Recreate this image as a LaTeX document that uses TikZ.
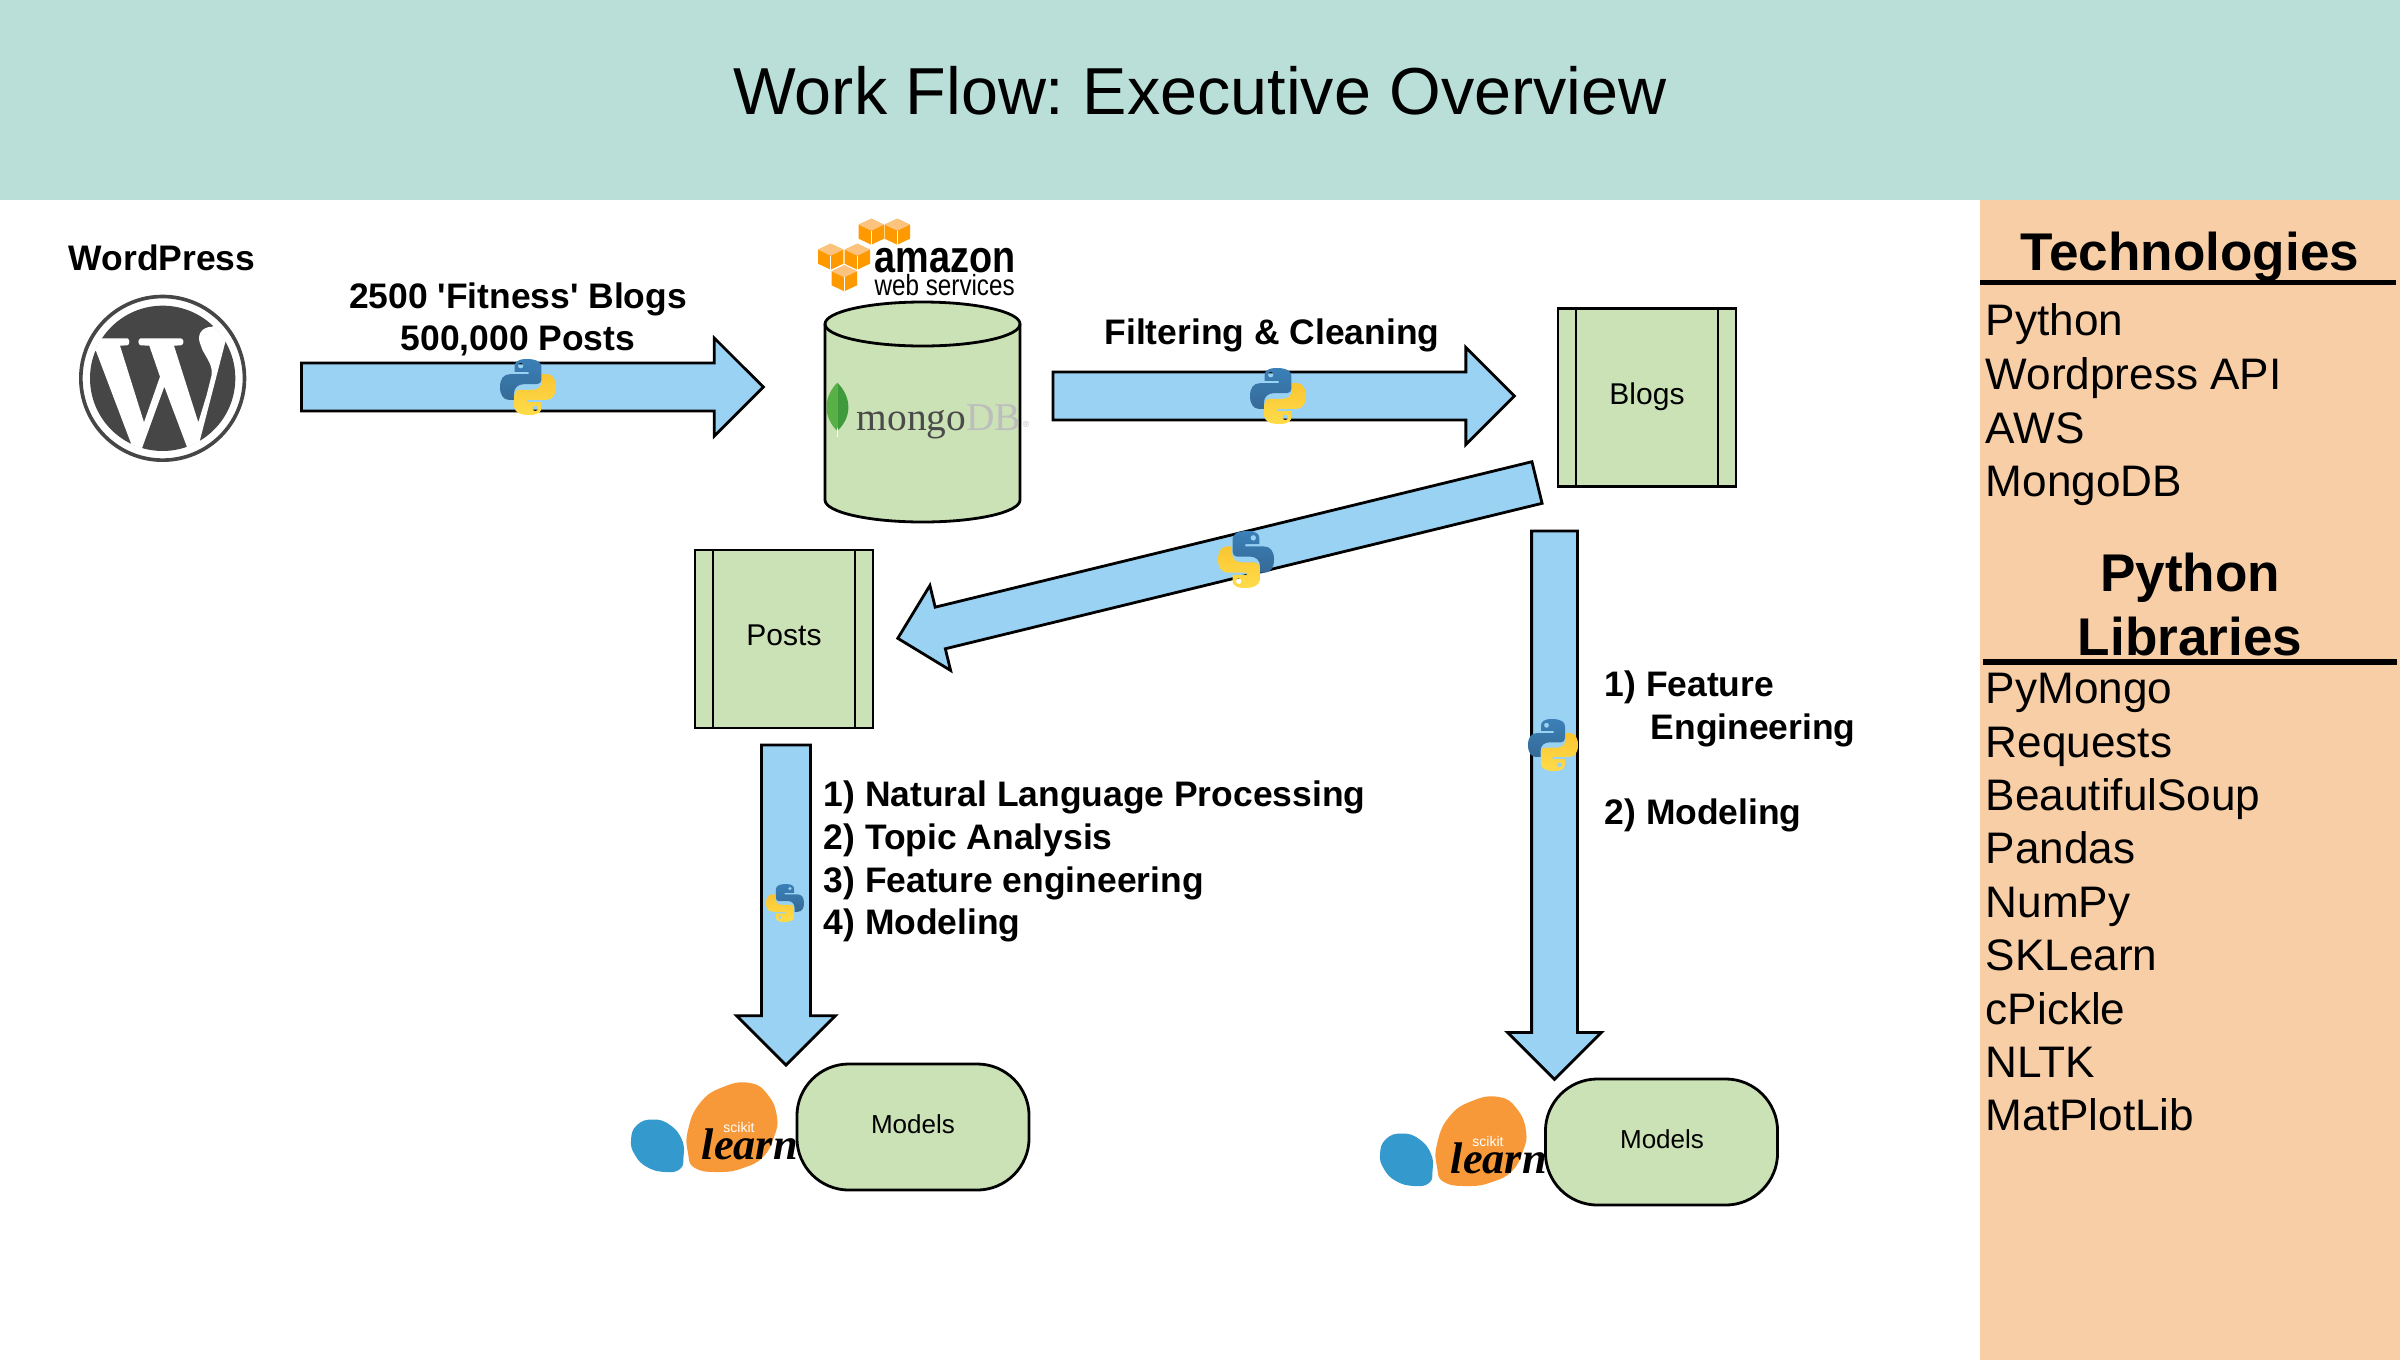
\documentclass[tikz,border=0pt]{standalone}
\usepackage{fontspec}
\usepackage{graphicx}
\setmainfont{Liberation Sans}[Ligatures=TeXOff]
\newfontfamily\serifface{Liberation Serif}
\usetikzlibrary{shapes.geometric,shapes.arrows}
\definecolor{headerteal}{HTML}{B9DFD8}
\definecolor{panelpeach}{HTML}{F8CEA6}
\definecolor{boxgreen}{HTML}{CBE2B6}
\definecolor{arrowblue}{HTML}{9AD2F3}
\definecolor{wpgrey}{HTML}{464646}
\definecolor{pyblueA}{HTML}{3B80B8}
\definecolor{pyblueB}{HTML}{356A96}
\definecolor{pyyellowA}{HTML}{FFDC4A}
\definecolor{pyyellowB}{HTML}{FAC532}
\definecolor{skblue}{HTML}{3499CD}
\definecolor{skorange}{HTML}{F89939}
\definecolor{awsorange}{HTML}{FF9900}
\definecolor{awstop}{HTML}{FBC37E}
\definecolor{mongodark}{HTML}{4A4A4A}
\definecolor{mongolight}{HTML}{BDBDBD}
\definecolor{leafA}{HTML}{58B047}
\definecolor{leafB}{HTML}{3F9A3C}
\newcommand{\fspt}[1]{\fontsize{#1}{#1}\selectfont}
\frenchspacing
\tikzset{
  x=0.01cm,y=-0.01cm,
  boxline/.style={line width=0.028cm,draw=black},
  bigarrow/.style={single arrow,boxline,fill=arrowblue,inner xsep=0pt,outer sep=0pt,anchor=tail},
  procbox/.style={rectangle,boxline,fill=boxgreen,minimum width=1.78cm,minimum height=1.78cm,inner sep=0pt,outer sep=0pt},
  modelbox/.style={rectangle,rounded corners=0.52cm,boxline,fill=boxgreen,minimum width=2.32cm,minimum height=1.26cm,inner sep=0pt,outer sep=0pt},
  boxtext/.style={anchor=base,inner sep=0pt,font=\fspt{8.54}},
  modeltext/.style={anchor=base,inner sep=0pt,font=\fspt{7.4}},
  boldlabel/.style={inner sep=0pt,font=\fspt{10.08}\bfseries},
  itemtext/.style={anchor=base west,inner sep=0pt,font=\fspt{12.55}},
  panelhead/.style={anchor=base,inner sep=0pt,font=\fspt{15.1}\bfseries},
  pylogo/.pic={
    \path[top color=pyblueA,bottom color=pyblueB,even odd rule]
      (-2,-50) .. controls (-20,-50) and (-24,-44) .. (-24,-36) -- (-24,-27) -- (1,-27) -- (1,-23) -- (-32,-23)
      .. controls (-44,-23) and (-50,-14) .. (-50,0) .. controls (-50,14) and (-44,23) .. (-34,23) -- (-25,23) -- (-25,11)
      .. controls (-25,1) and (-17,-5) .. (-8,-5) -- (16,-5) .. controls (21,-5) and (24,-9) .. (24,-14) -- (24,-36)
      .. controls (24,-44) and (16,-50) .. (-2,-50) -- cycle
      (-13,-38) circle[radius=5];
    \path[rotate=180,top color=pyyellowB,bottom color=pyyellowA,even odd rule]
      (-2,-50) .. controls (-20,-50) and (-24,-44) .. (-24,-36) -- (-24,-27) -- (1,-27) -- (1,-23) -- (-32,-23)
      .. controls (-44,-23) and (-50,-14) .. (-50,0) .. controls (-50,14) and (-44,23) .. (-34,23) -- (-25,23) -- (-25,11)
      .. controls (-25,1) and (-17,-5) .. (-8,-5) -- (16,-5) .. controls (21,-5) and (24,-9) .. (24,-14) -- (24,-36)
      .. controls (24,-44) and (16,-50) .. (-2,-50) -- cycle
      (-13,-38) circle[radius=5];
  },
  awscube/.pic={
    \fill[awsorange] (0,-13) -- (12.7,-7) -- (12.7,7) -- (0,13) -- (-12.7,7) -- (-12.7,-7) -- cycle;
    \fill[awstop] (0,-13) -- (12.7,-7) -- (0,-1) -- (-12.7,-7) -- cycle;
    \draw[white,line width=0.005cm] (0,-1) -- (0,13);
  },
  sklogo/.pic={
    \fill[skblue] plot[smooth cycle,tension=0.8] coordinates {(11,70) (17,55) (33,49.5) (50,55) (62,70) (63.5,87) (60,99) (45,102) (27,97) (15,85)};
    \fill[skorange] plot[smooth cycle,tension=0.8] coordinates {(68,60) (80,33) (103,17) (130,13) (148,25) (157,47) (154,67) (143,87) (123,98) (100,102) (75,98) (68,83)};
    \node[anchor=base,inner sep=0pt,text=white,font=\fspt{3.98}] (-scikit) at (119,62) {scikit};
    \node[anchor=base west,inner sep=0pt,font=\fspt{12.6}\serifface\bfseries\itshape] (-learn) at (81,89) {learn};
  }
}
\begin{document}
\begin{tikzpicture}
\path[use as bounding box] (0,0) rectangle (2400,1360);
% backgrounds
\fill[headerteal] (0,0) rectangle (2400,200);
\fill[panelpeach] (1980,200) rectangle (2400,1360);
\node[anchor=base,inner sep=0pt,font=\fspt{18.9}] (title) at (1200,114) {Work Flow: Executive Overview};

% WordPress logo
\begin{scope}[shift={(70,285)},scale=0.3333]
  \coordinate (wpc) at (278,280);
  \fill[wpgrey,even odd rule] (wpc) circle[radius=251] (wpc) circle[radius=240];
  \fill[wpgrey] (wpc) circle[radius=218];
  \begin{scope}
    \clip (wpc) circle[radius=219];
    \fill[white] (40,160) -- (172,160) .. controls (180,162) and (180,179) .. (172,181) -- (150,182) -- (222,412) -- (270,275) -- (238,182) -- (212,181)
      .. controls (203,179) and (203,162) .. (212,160) -- (333,160) .. controls (343,162) and (343,179) .. (333,181) -- (312,182) -- (385,412) -- (410,330) -- (425,270)
      .. controls (430,235) and (400,210) .. (392,180) .. controls (378,150) and (395,125) .. (428,125) -- (440,80) -- (500,100) -- (472,150) -- (465,175) -- (390,465) -- (380,520) -- (360,510)
      -- (283,305) -- (205,520) -- (190,495) -- (183,475) -- (78,198) -- (40,198) -- cycle;
  \end{scope}
\end{scope}
\node[boldlabel,anchor=base] (wplabel) at (162,270) {WordPress};

% arrows
\node[bigarrow,minimum height=4.615cm,inner ysep=0.225cm,single arrow head extend=0.25cm] (a1) at (301.5,387) {};
\node[bigarrow,minimum height=4.61cm,inner ysep=0.225cm,single arrow head extend=0.245cm] (a2) at (1053,396) {};
\node[bigarrow,minimum height=6.576cm,inner ysep=0.2cm,single arrow head extend=0.223cm,rotate=193.7] (a3) at (1537,482.5) {};
\node[bigarrow,minimum height=5.48cm,inner ysep=0.215cm,single arrow head extend=0.24cm,rotate=-90] (a4) at (1554.5,531) {};
\node[bigarrow,minimum height=3.2cm,inner ysep=0.23cm,single arrow head extend=0.25cm,rotate=-90] (a5) at (786,745) {};

% arrow labels
\node[boldlabel,anchor=base] (lab1a) at (518,308.5) {2500 'Fitness' Blogs};
\node[boldlabel,anchor=base] (lab1b) at (518,350.5) {500,000 Posts};
\node[boldlabel,anchor=base] (lab2) at (1272,344) {Filtering \& Cleaning};
\node[boldlabel,anchor=base west] (lab5a) at (823,806) {1) Natural Language Processing};
\node[boldlabel,anchor=base west] (lab5b) at (823,849) {2) Topic Analysis};
\node[boldlabel,anchor=base west] (lab5c) at (823,892) {3) Feature engineering};
\node[boldlabel,anchor=base west] (lab5d) at (823,934) {4) Modeling};
\node[boldlabel,anchor=base west] (lab4a) at (1604,696) {1) Feature};
\node[boldlabel,anchor=base west] (lab4b) at (1650,739) {Engineering};
\node[boldlabel,anchor=base west] (lab4c) at (1604,824) {2) Modeling};

% AWS logo
\foreach \cx/\cy in {871.3/231.7, 897.3/231.7, 830.7/256.7, 857.3/256.7, 844.3/278.3}
  \pic at (\cx,\cy) {awscube};
\node[anchor=base west,inner sep=0pt,font=\fspt{12.8}\bfseries] (awsa) at (874,272) {\scalebox{0.84}[1]{amazon}};
\node[anchor=base west,inner sep=0pt,font=\fspt{8.3}] (awsb) at (874,295) {\scalebox{0.83}[1]{web services}};

% MongoDB cylinder
\coordinate (dbtop) at (922.5,324);
\coordinate (dbbot) at (922.5,500);
\path[boxline,fill=boxgreen] (825,324) -- (825,500) arc[start angle=180,end angle=360,x radius=97.5,y radius=-22] -- (1020,324) arc[start angle=0,end angle=180,x radius=97.5,y radius=-22] -- cycle;
\draw[boxline] (825,324) arc[start angle=180,end angle=360,x radius=97.5,y radius=-22];
\fill[leafA] (837.3,382.7) .. controls (825,395) and (821,415) .. (837.3,431) -- cycle;
\fill[leafB] (837.3,382.7) .. controls (850,395) and (854,415) .. (837.3,431) -- cycle;
\draw[white,line width=0.01cm] (837.3,428) -- (837.3,437);
\node[anchor=base west,inner sep=0pt,font=\fspt{11.2}\serifface] (mongo) at (856,430) {\textcolor{mongodark}{mongo}\textcolor{mongolight}{DB}};
\node[anchor=base,inner sep=0pt,text=mongolight,font=\fspt{2.5}] (mongor) at (1026,427) {®};

% process boxes
\node[procbox] (blogs) at (1647,397.5) {};
\draw[boxline] ([xshift=0.18cm]blogs.north west) -- ([xshift=0.18cm]blogs.south west);
\draw[boxline] ([xshift=-0.18cm]blogs.north east) -- ([xshift=-0.18cm]blogs.south east);
\node[boxtext] (blogstext) at (1647,404) {Blogs};
\node[procbox] (posts) at (784,639) {};
\draw[boxline] ([xshift=0.18cm]posts.north west) -- ([xshift=0.18cm]posts.south west);
\draw[boxline] ([xshift=-0.18cm]posts.north east) -- ([xshift=-0.18cm]posts.south east);
\node[boxtext] (poststext) at (784,645) {Posts};

% scikit-learn logos and model boxes
\pic (sk1) at (620,1070) {sklogo};
\pic (sk2) at (1369,1084) {sklogo};
\node[modelbox] (m1) at (913,1127) {};
\node[modeltext] (m1text) at (913,1133) {Models};
\node[modelbox] (m2) at (1661.5,1142) {};
\node[modeltext] (m2text) at (1662,1148) {Models};

% python logos
\pic[scale=0.56] at (528,387) {pylogo};
\pic[scale=0.56] at (1278,396) {pylogo};
\pic[xscale=-0.56,yscale=0.57] at (1246,559.5) {pylogo};
\pic[xscale=0.5,yscale=0.52] at (1553,745) {pylogo};
\pic[xscale=-0.38,yscale=0.38] at (785,903) {pylogo};

% right panel
\node[panelhead] (tech) at (2190,270) {Technologies};
\draw[line width=0.05cm] (1980,282) -- (2396,282);
\node[itemtext] (t1) at (1985,335) {Python};
\node[itemtext] (t2) at (1985,389) {Wordpress API};
\node[itemtext] (t3) at (1985,443) {AWS};
\node[itemtext] (t4) at (1985,496) {MongoDB};
\node[panelhead] (lib1) at (2190,591) {Python};
\node[panelhead] (lib2) at (2190,655) {Libraries};
\draw[line width=0.06cm] (1983,662) -- (2397,662);
\node[itemtext] (l1) at (1985,703.5) {PyMongo};
\node[itemtext] (l2) at (1985,757) {Requests};
\node[itemtext] (l3) at (1985,810.3) {BeautifulSoup};
\node[itemtext] (l4) at (1985,863.7) {Pandas};
\node[itemtext] (l5) at (1985,917) {NumPy};
\node[itemtext] (l6) at (1985,970.5) {SKLearn};
\node[itemtext] (l7) at (1985,1024) {cPickle};
\node[itemtext] (l8) at (1985,1077.3) {NLTK};
\node[itemtext] (l9) at (1985,1130.7) {MatPlotLib};
\end{tikzpicture}
\end{document}
